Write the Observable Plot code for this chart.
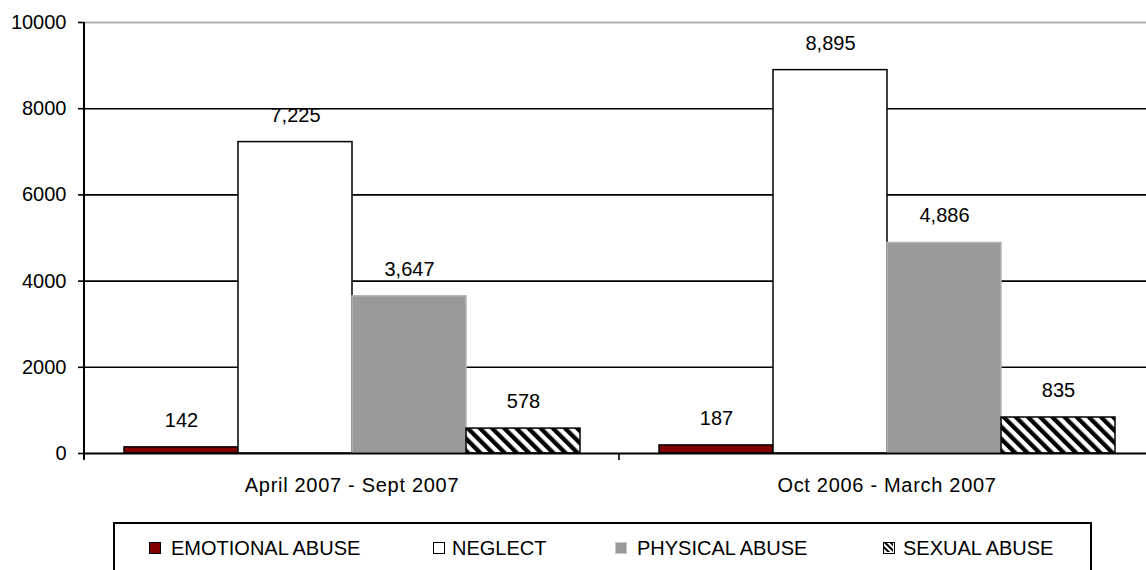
<!DOCTYPE html>
<html><head><meta charset="utf-8">
<script src="https://cdn.jsdelivr.net/npm/d3@7"></script>
<script src="https://cdn.jsdelivr.net/npm/@observablehq/plot@0.6"></script>
<style>
body{margin:0;background:#fff;font-family:"Liberation Sans",Arial,sans-serif;color:#000;}
#wrap{position:relative;width:1146px;height:570px;overflow:hidden;}
#chart{position:absolute;left:0;top:0;}
#legend{position:absolute;left:113px;top:522px;width:979px;height:70px;border:2px solid #000;box-sizing:border-box;}
.sw{position:absolute;top:542px;width:12px;height:12px;box-sizing:border-box;border:1.5px solid #000;}
.lt{position:absolute;top:536px;font-size:20px;line-height:24px;white-space:nowrap;}
.fxlab text{letter-spacing:0.7px;}
</style></head>
<body>
<div id="wrap">
<svg width="0" height="0" style="position:absolute">
  <defs>
    <pattern id="hatch" patternUnits="userSpaceOnUse" width="8.6" height="8.6" patternTransform="rotate(-45)">
      <rect x="0" y="0" width="8.6" height="8.6" fill="#fff"/>
      <rect x="0" y="0" width="4.3" height="8.6" fill="#000"/>
    </pattern>
    <pattern id="hatchSmall" patternUnits="userSpaceOnUse" width="4" height="4" patternTransform="rotate(-45)">
      <rect x="0" y="0" width="4" height="4" fill="#fff"/>
      <rect x="0" y="0" width="2" height="4" fill="#000"/>
    </pattern>
  </defs>
</svg>
<div id="chart"></div>
<div id="legend"></div>
</div>
<script>
const periods = ["April 2007 - Sept 2007", "Oct 2006 - March 2007"];
const seriesNames = ["EMOTIONAL ABUSE", "NEGLECT", "PHYSICAL ABUSE", "SEXUAL ABUSE"];
const emotional = [142, 187];
const neglect = [7225, 8895];
const physical = [3647, 4886];
const sexual = [578, 835];
const yTicks = [0, 2000, 4000, 6000, 8000, 10000];

const seriesValues = [emotional, neglect, physical, sexual];
const fills = ["#800000", "#ffffff", "#999999", "url(#hatch)"];
const strokes = ["#000", "#000", "#b4b4b4", "#000"];

const rows = periods.flatMap((p, i) => seriesNames.map((s, j) => ({period: p, series: s, value: seriesValues[j][i]})));

const barMarks = seriesNames.map((s, j) => Plot.barY(rows.filter(d => d.series === s), {
  fx: "period", x: "series", y: "value",
  fill: fills[j], stroke: strokes[j], strokeWidth: 1.5, inset: 0
}));

const plot = Plot.plot({
  width: 1146, height: 515,
  marginLeft: 84, marginRight: -8, marginTop: 22, marginBottom: 62,
  style: {fontFamily: "'Liberation Sans', Arial, sans-serif", fontSize: "20px", color: "#000", background: "transparent"},
  fx: {domain: periods, padding: 0, label: null},
  x: {domain: seriesNames, paddingInner: 0, paddingOuter: 0.346, axis: null},
  y: {domain: [0, 10000], axis: null},
  marks: [
    Plot.ruleY([10000], {stroke: "#b0b0b0", strokeWidth: 2}),
    Plot.ruleY(yTicks.filter(t => t > 0 && t < 10000), {stroke: "#000", strokeWidth: 1.6}),
    ...barMarks,
    Plot.ruleY([0], {stroke: "#000", strokeWidth: 2}),
    Plot.text(rows, {fx: "period", x: "series", y: "value", text: d => d3.format(",")(d.value), dy: -27, fontSize: 20, fill: "#000"}),
    Plot.axisY({ticks: yTicks, tickFormat: d3.format("d"), tickSize: 6, tickPadding: 12, fontSize: 20, stroke: "#000", strokeWidth: 1.6, label: null}),
    Plot.axisFx({anchor: "bottom", tickSize: 0, tickPadding: 24, fontSize: 20, label: null, className: "fxlab"})
  ]
});
document.getElementById("chart").appendChild(plot);

// axis lines drawn with the plot's own scales
const ys = plot.scale("y");
const fxs = plot.scale("fx");
const svg = d3.select(plot);
const y0 = ys.apply(0), yTop = ys.apply(10000);
const xLeft = fxs.apply(periods[0]);
svg.append("line").attr("x1", xLeft).attr("x2", xLeft).attr("y1", yTop).attr("y2", y0 + 6)
  .attr("stroke", "#000").attr("stroke-width", 2);
const bw = fxs.bandwidth;
const edges = periods.map(p => fxs.apply(p)).concat([fxs.apply(periods[periods.length - 1]) + bw]);
edges.forEach(x => svg.append("line").attr("x1", x).attr("x2", x).attr("y1", y0).attr("y2", y0 + 7)
  .attr("stroke", "#000").attr("stroke-width", 1.6));

// legend
const wrap = document.getElementById("wrap");
const swX = [149, 433, 615, 883];
const txX = [171, 452, 637, 903];
seriesNames.forEach((s, j) => {
  const sw = document.createElement("div");
  sw.className = "sw";
  sw.style.left = swX[j] + "px";
  if (j === 3) {
    sw.innerHTML = '<svg width="9" height="9" style="display:block"><rect width="9" height="9" fill="url(#hatchSmall)"/></svg>';
  } else {
    sw.style.background = fills[j];
  }
  if (j === 2) sw.style.borderColor = "#c8c8c8";
  wrap.appendChild(sw);
  const t = document.createElement("div");
  t.className = "lt";
  t.style.left = txX[j] + "px";
  t.textContent = s;
  wrap.appendChild(t);
});
</script>
</body></html>
